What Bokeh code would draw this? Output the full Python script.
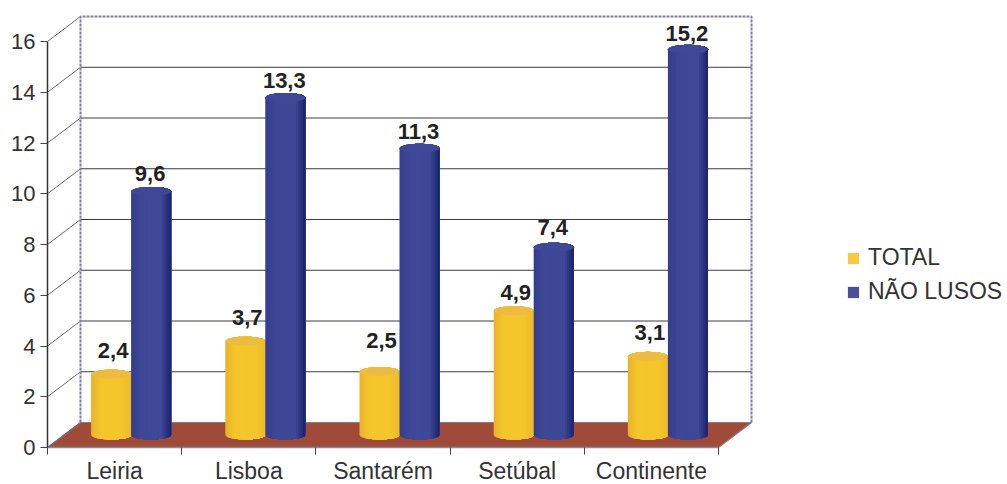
import math
from bokeh.embed import file_html
from bokeh.resources import INLINE
from bokeh.plotting import figure
from bokeh.models import Range1d, LinearAxis, FixedTicker, Legend, LegendItem
from bokeh.core.properties import value

categories = ["Leiria", "Lisboa", "Santarém", "Setúbal", "Continente"]
total = [2.4, 3.7, 2.5, 4.9, 3.1]
nao_lusos = [9.6, 13.3, 11.3, 7.4, 15.2]
y_ticks = [0, 2, 4, 6, 8, 10, 12, 14, 16]
series_names = ["TOTAL", "NÃO LUSOS"]

# label nudges in pixels above the bar top (hand placed in the original)
total_label_gap = [16, 16, 23, 10, 16]
lusos_label_gap = [10, 9, 9, 12, 8]

W, H = 1007, 484
X0, Y0 = 47, 447                  # pixel position of data origin inside the figure
PX_X, PX_Y = 134.2, 25.375        # pixels per unit
DX, DY = 33 / PX_X, 25 / PX_Y     # depth offset of back wall
HALF_W, RY = 20 / PX_X, 4.5 / PX_Y
N = len(categories)
FONT = "Liberation Sans"
CAP_HALF = 8 / PX_Y               # half the cap height of the 22px labels

p = figure(width=W, height=H, output_backend="svg", toolbar_location=None,
           x_range=Range1d(-X0 / PX_X, (W - X0) / PX_X),
           y_range=Range1d(-(H - Y0) / PX_Y, Y0 / PX_Y),
           x_axis_type=None, y_axis_type=None, min_border=0,
           outline_line_color=None, background_fill_color="white")
p.xgrid.visible = False
p.ygrid.visible = False

# floor
p.patch([0, N, N + DX, DX], [0, 0, DY, DY], fill_color="#A04A3A", line_color="#8f7a78", line_width=1.2)

# back wall grid + left wall diagonals
gt = [t for t in y_ticks if 0 < t < 16]
p.multi_line([[DX, N + DX] for _ in gt], [[t + DY, t + DY] for t in gt], line_color="#3a3a44", line_width=1)
p.multi_line([[0, DX] for _ in y_ticks], [[t, t + DY] for t in y_ticks], line_color="#6a6a72", line_width=1)
wall_x = [DX, DX, N + DX, N + DX]
wall_y = [DY, 16 + DY, 16 + DY, DY]
p.line(wall_x, wall_y, line_color="#7f7fa5", line_width=2, line_dash="3 1")


def lerp(a, b, t):
    return tuple(a[i] + (b[i] - a[i]) * t for i in range(3))


def hexc(c):
    return "#%02x%02x%02x" % tuple(int(round(v)) for v in c)


def shade(left, mid, right, t):
    return hexc(lerp(left, mid, min(1, t * 4)) if t < .5 else lerp(mid, right, max(0, (t - .75) * 4)))


def cylinder(cx, v, pal, cap):
    base, top = DY / 2, DY / 2 + v
    n = 18
    arc = [-1 + 2 * j / 40 for j in range(41)]
    xs, ys, cols = [], [], []
    for i in range(n):
        a = -1 + 2 * i / n
        pts = [u for u in arc if u > a]
        us = [a] + pts
        low = [base - RY * math.sqrt(max(0, 1 - u * u)) for u in us]
        upp = [top + RY * math.sqrt(max(0, 1 - u * u)) for u in us]
        xs.append([cx + u * HALF_W for u in us] + [cx + u * HALF_W for u in reversed(us)])
        ys.append(low + upp[::-1])
        cols.append(shade(*pal, (i + .5) / n))
    p.patches(xs, ys, fill_color=cols, line_color=None)
    p.ellipse([cx], [top], width=2 * HALF_W, height=2 * RY, fill_color=cap, line_color=None)


ORANGE = ((234, 178, 40), (244, 198, 44), (238, 186, 40))
BLUE = ((52, 60, 142), (62, 72, 150), (26, 34, 108))
BAR_CENTER = [i + .5 + DX / 2 for i in range(N)]

for i in range(N):
    cylinder(BAR_CENTER[i] - HALF_W, total[i], ORANGE, "#EBBB42")
    cylinder(BAR_CENTER[i] + HALF_W, nao_lusos[i], BLUE, "#3E4896")

# data labels
lab_x, lab_y, lab_t = [], [], []
for i in range(N):
    lab_x += [BAR_CENTER[i] - HALF_W + 2 / PX_X, BAR_CENTER[i] + HALF_W - 1 / PX_X]
    lab_y += [DY / 2 + total[i] + total_label_gap[i] / PX_Y + CAP_HALF,
              DY / 2 + nao_lusos[i] + lusos_label_gap[i] / PX_Y + CAP_HALF]
    lab_t += [f"{total[i]}".replace(".", ","), f"{nao_lusos[i]}".replace(".", ",")]
p.text(lab_x, lab_y, text=lab_t, text_font=value(FONT), text_font_style="bold", text_font_size="22px",
       text_color="#222222", text_align="center", text_baseline="middle")

# axes
yax = LinearAxis(ticker=FixedTicker(ticks=y_ticks), fixed_location=0, bounds=(0, 16))
yax.axis_line_color = "#333333"; yax.axis_line_width = 1.5
yax.major_tick_line_color = "#444444"; yax.major_tick_out = 7; yax.major_tick_in = 0
yax.minor_tick_line_color = None
yax.major_label_text_font = FONT; yax.major_label_text_font_size = "22px"
yax.major_label_text_color = "#333333"; yax.major_label_standoff = 5
p.add_layout(yax, "left")

centers = [i + .5 for i in range(N)]
xax = LinearAxis(ticker=FixedTicker(ticks=centers, minor_ticks=list(range(N + 1))), fixed_location=0, bounds=(0, N))
xax.major_label_overrides = {c: n for c, n in zip(centers, categories)}
xax.axis_line_color = "#8a8a8a"; xax.axis_line_width = 1.5
xax.major_tick_line_color = None; xax.major_tick_out = 0; xax.major_tick_in = 0
xax.minor_tick_line_color = "#444444"; xax.minor_tick_out = 7; xax.minor_tick_in = 0
xax.major_label_text_font = FONT; xax.major_label_text_font_size = "23px"
xax.major_label_text_color = "#333333"; xax.major_label_standoff = 3
p.add_layout(xax, "below")

# legend (swatches come from off-range patches in series colours)
r1 = p.patch([-9, -9], [-99, -99], fill_color="#F5CB3C", line_color=None)
r2 = p.patch([-9, -9], [-99, -99], fill_color="#4A4F9A", line_color=None)
leg = Legend(items=[LegendItem(label=series_names[0], renderers=[r1]),
                    LegendItem(label=series_names[1], renderers=[r2])],
             location=(846, 179), orientation="vertical", background_fill_alpha=0, border_line_color=None,
             glyph_width=14, glyph_height=14, label_text_font=FONT, label_text_font_size="23px",
             label_text_color="#333333", padding=0, margin=0, spacing=7, label_standoff=8, label_height=26)
p.add_layout(leg, "center")

open("out.html", "w").write(file_html(p, INLINE))
